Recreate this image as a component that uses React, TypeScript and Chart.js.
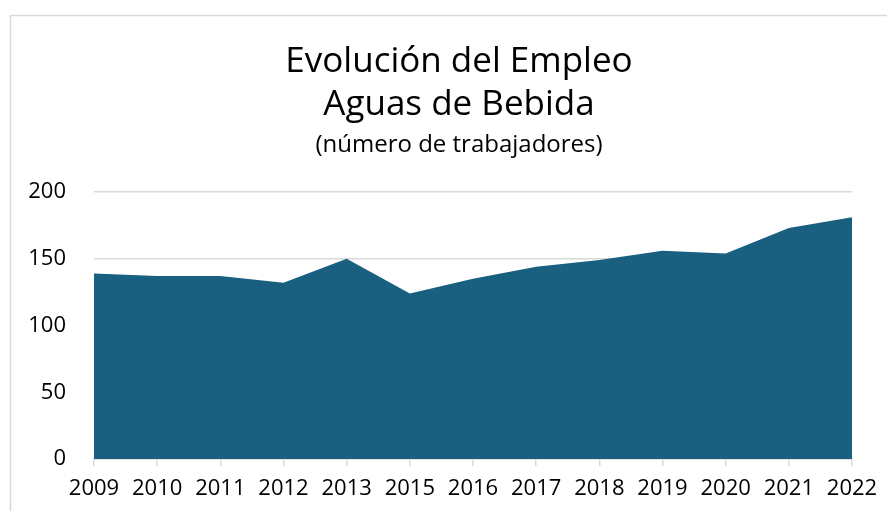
import React, { useEffect, useRef } from "react";
import { Chart, registerables } from "chart.js";

Chart.register(...registerables);

const years = ["2009", "2010", "2011", "2012", "2013", "2015", "2016", "2017", "2018", "2019", "2020", "2021", "2022"];
const workers = [139, 137, 137, 132, 150, 124, 135, 144, 149, 156, 154, 173, 181];
const titleLines = ["Evolución del Empleo", "Aguas de Bebida"];
const subtitleText = "(número de trabajadores)";

const FONT = "'Open Sans', 'Noto Sans', sans-serif";

const framePlugin = {
  id: "frame",
  beforeDraw(chart: any) {
    const ctx = chart.ctx;
    ctx.save();
    ctx.fillStyle = "#ffffff";
    ctx.fillRect(0, 0, chart.width, chart.height);
    ctx.strokeStyle = "#d9d9d9";
    ctx.lineWidth = 1.5;
    ctx.beginPath();
    ctx.moveTo(10.5, chart.height + 2);
    ctx.lineTo(10.5, 15.5);
    ctx.lineTo(887, 15.5);
    ctx.stroke();
    ctx.restore();
  },
  afterDraw(chart: any) {
    const ctx = chart.ctx;
    ctx.save();
    ctx.fillStyle = "#000000";
    ctx.textAlign = "center";
    ctx.textBaseline = "alphabetic";
    const cx = 459;
    ctx.font = `35px ${FONT}`;
    ctx.fillText(titleLines[0], cx, 72);
    ctx.fillText(titleLines[1], cx, 115);
    ctx.font = `24px ${FONT}`;
    ctx.fillText(subtitleText, cx, 152);
    ctx.restore();
  },
};

export default function App() {
  const ref = useRef<HTMLCanvasElement | null>(null);
  useEffect(() => {
    if (!ref.current) return;
    const chart = new Chart(ref.current, {
      type: "line",
      data: {
        labels: years,
        datasets: [
          {
            data: workers,
            fill: "origin",
            backgroundColor: "#185f80",
            borderColor: "#185f80",
            borderWidth: 0,
            pointRadius: 0,
            tension: 0,
          },
        ],
      },
      options: {
        animation: false,
        responsive: false,
        maintainAspectRatio: false,
        layout: { padding: { top: 192, right: 37, left: 0, bottom: 0 } },
        plugins: { legend: { display: false }, tooltip: { enabled: false }, title: { display: false } },
        scales: {
          x: {
            offset: false,
            grid: { drawOnChartArea: false, drawTicks: true, tickLength: 7, color: "#d9d9d9", lineWidth: 1.5 },
            border: { display: true, color: "#d9d9d9", width: 1.5 },
            ticks: { color: "#000", font: { family: FONT, size: 22 }, padding: 10, maxRotation: 0, autoSkip: false },
            afterFit: (s: any) => { s.height = 52; },
          },
          y: {
            min: 0,
            max: 200,
            grid: { drawTicks: false, color: "#d9d9d9", lineWidth: 1.5 },
            border: { display: false },
            ticks: { stepSize: 50, color: "#000", font: { family: FONT, size: 22 }, padding: 28 },
            afterFit: (s: any) => { s.width = 94; },
          },
        },
      },
      plugins: [framePlugin],
    });
    return () => chart.destroy();
  }, []);
  return (
    <div style={{ position: "fixed", left: 0, top: 0, width: 889, height: 511, background: "#fff" }}>
      <canvas ref={ref} width={889} height={511} style={{ display: "block", width: 889, height: 511 }} />
    </div>
  );
}
